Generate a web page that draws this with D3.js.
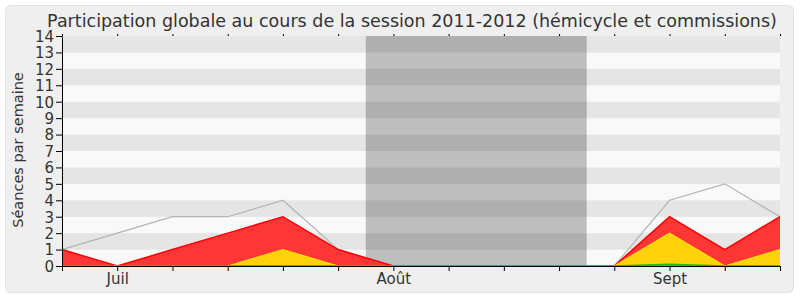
<!DOCTYPE html>
<html>
<head>
<meta charset="utf-8">
<script src="https://d3js.org/d3.v7.min.js"></script>
<style>
  body { margin: 0; background: #fff; }
  svg { display: block; font-family: "DejaVu Sans", sans-serif; }
</style>
</head>
<body>
<div id="graph"></div>
<script>
// Données (une valeur par semaine)
const semaines = [0, 1, 2, 3, 4, 5, 6, 7, 8, 9, 10, 11, 12, 13];
const moisLabels = ["Juil", "Août", "Sept"];
const moisIndex = [1, 6, 11];
const vacances = [5.5, 9.5];
const total = [1, 2, 3, 3, 4, 1, 0, 0, 0, 0, 0, 4, 5, 3];
const vert = [0, 0, 0, 0, 0, 0, 0, 0, 0, 0, 0, 0.1, 0, 0];
const jaune = [0, 0, 0, 0, 1, 0, 0, 0, 0, 0, 0, 1.9, 0, 1];
const rouge = [1, 0, 1, 2, 2, 1, 0, 0, 0, 0, 0, 1, 1, 2];
const yTicks = d3.range(0, 15);

const W = 800, H = 300;
const margin = {top: 36, right: 20, bottom: 34, left: 62};
const width = W - margin.left - margin.right;
const height = H - margin.top - margin.bottom;

const svg = d3.select("#graph").append("svg")
    .attr("width", W)
    .attr("height", H);

// panneau de fond
svg.append("rect")
    .attr("x", 5.5).attr("y", 5.5)
    .attr("width", 788).attr("height", 287)
    .attr("rx", 5)
    .attr("fill", "#efefef")
    .attr("stroke", "#e2e2e2");

svg.append("text")
    .attr("x", 412)
    .attr("y", 27)
    .attr("text-anchor", "middle")
    .style("font-size", "17.5px")
    .attr("fill", "#333")
    .text("Participation globale au cours de la session 2011-2012 (hémicycle et commissions)");

const g = svg.append("g")
    .attr("transform", "translate(" + margin.left + "," + margin.top + ")");

const x = d3.scaleLinear().domain([0, 13]).range([0, width]);
const y = d3.scaleLinear().domain([0, 14]).range([height, 0]);

// bandes horizontales
g.selectAll(".bande")
    .data(d3.range(0, 14))
    .enter().append("rect")
    .attr("x", 0)
    .attr("y", d => y(d + 1))
    .attr("width", width)
    .attr("height", d => y(d) - y(d + 1))
    .attr("fill", d => d % 2 ? "#e5e5e5" : "#f9f9f9");

// vacances parlementaires
g.append("rect")
    .attr("x", x(vacances[0]))
    .attr("y", 0)
    .attr("width", x(vacances[1]) - x(vacances[0]))
    .attr("height", height)
    .attr("fill", "rgba(0,0,0,0.235)");

// empilement
const bas = semaines.map(i => 0);
const topVert = semaines.map(i => vert[i]);
const topJaune = semaines.map(i => vert[i] + jaune[i]);
const topRouge = semaines.map(i => vert[i] + jaune[i] + rouge[i]);

function aire(b, t, couleur) {
    g.append("path")
        .datum(semaines)
        .attr("fill", couleur)
        .attr("d", d3.area().x(i => x(i)).y0(i => y(b[i])).y1(i => y(t[i])));
}
function ligne(t, couleur, w) {
    g.append("path")
        .datum(semaines)
        .attr("fill", "none")
        .attr("stroke", couleur)
        .attr("stroke-width", w)
        .attr("d", d3.line().x(i => x(i)).y(i => y(t[i])));
}

ligne(total, "#b4b4b4", 1.2);
aire(topJaune, topRouge, "#ff3636");
aire(topVert, topJaune, "#ffd20c");
aire(bas, topVert, "#33cc33");
ligne(topRouge, "#ff0000", 1.5);
ligne(topJaune, "#ffe000", 1.2);
ligne(topVert, "#22bb00", 1.5);

// axes
g.append("g")
    .attr("class", "y-axis")
    .call(d3.axisLeft(y).tickValues(yTicks).tickSize(6).tickSizeOuter(0))
    .call(a => a.attr("font-size", null).attr("font-family", null))
    .call(a => a.selectAll("text").attr("x", -8).attr("dy", "0.36em")
        .style("font-size", "15px").style("fill", "#333"))
    .call(a => a.select(".domain").attr("stroke", "#000"));

g.append("g")
    .attr("class", "x-axis")
    .attr("transform", "translate(0," + height + ")")
    .call(d3.axisBottom(x).tickValues(semaines).tickSize(5).tickSizeOuter(0)
        .tickFormat(i => moisIndex.includes(i) ? moisLabels[moisIndex.indexOf(i)] : ""))
    .call(a => a.attr("font-size", null).attr("font-family", null))
    .call(a => a.selectAll("text").attr("y", 7).attr("dy", "0.75em")
        .style("font-size", "15px").style("fill", "#333"))
    .call(a => a.select(".domain").attr("stroke", "#000"));

g.append("g")
    .attr("class", "x-axis-top")
    .call(d3.axisTop(x).tickValues(semaines).tickSize(2).tickSizeOuter(0).tickFormat(""))
    .call(a => a.select(".domain").remove());

svg.append("text")
    .attr("transform", "translate(23,150) rotate(-90)")
    .attr("text-anchor", "middle")
    .style("font-size", "14.5px")
    .attr("fill", "#333")
    .text("Séances par semaine");
</script>
</body>
</html>
